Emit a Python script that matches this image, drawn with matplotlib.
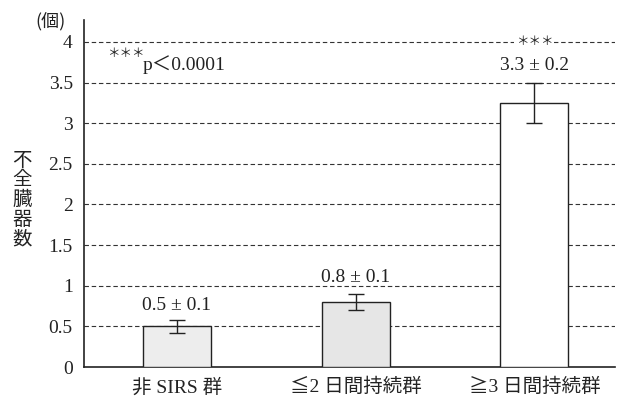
import matplotlib.pyplot as plt

# data
groups = ["非 SIRS 群", "≦2 日間持続群", "≧3 日間持続群"]
means = [0.5, 0.8, 3.25]
errors = [0.08, 0.1, 0.25]
value_labels = ["0.5 ± 0.1", "0.8 ± 0.1", "3.3 ± 0.2"]
bar_colors = ["#ededed", "#e6e6e6", "white"]
yticks = [0, 0.5, 1, 1.5, 2, 2.5, 3, 3.5, 4]
ytick_labels = ["0", "0.5", "1", "1.5", "2", "2.5", "3", "3.5", "4"]

fonts = ["Liberation Serif", "Noto Sans CJK JP", "DejaVu Sans"]
plt.rcParams['font.family'] = fonts

fig = plt.figure(figsize=(6.21, 4.03), dpi=100)
ax = fig.add_axes([0.135, 0.0893, 0.855, 0.861])

x = list(range(len(groups)))
ax.bar(x, means, width=0.38, color=bar_colors, edgecolor="#222222",
       linewidth=1.0, zorder=3)
ax.errorbar(x, means, yerr=errors, fmt="none", ecolor="#222222",
            elinewidth=1.0, capsize=6, capthick=1.0, zorder=4)

# value labels above bars
label_y = [0.65, 1.0, 3.6]
for xi, yi, txt in zip(x, label_y, value_labels):
    ax.text(xi, yi, txt, ha="center", va="bottom", fontsize=14, color="#222222")
ax.text(2, 4.0, "＊＊＊", ha="center", va="center", fontsize=9, color="#222222",
        family=["Noto Sans CJK JP"],
        bbox=dict(facecolor="white", edgecolor="none", pad=1), zorder=5)
ax.text(-0.39, 3.78, "＊＊＊", ha="left", va="bottom", fontsize=9,
        color="#222222", family=["Noto Sans CJK JP"])
ax.text(-0.19, 3.72, "p＜0.0001", ha="left", va="center", fontsize=14,
        color="#222222")

ax.set_xlim(-0.52, 2.45)
ax.set_ylim(0, 4.27)
ax.set_yticks(yticks)
ax.set_yticklabels(ytick_labels, fontsize=14)
ax.set_xticks(x)
ax.set_xticklabels(groups, fontsize=14)
ax.tick_params(axis="both", length=0, pad=8, colors="#222222")

for yv in yticks[1:]:
    ax.axhline(yv, color="#333333", linestyle=(0, (4, 2.5)), linewidth=0.8, zorder=1)

for side in ["top", "right"]:
    ax.spines[side].set_visible(False)
ax.spines["left"].set_linewidth(1.2)
ax.spines["bottom"].set_linewidth(1.2)
ax.spines["left"].set_color("#222222")
ax.spines["bottom"].set_color("#222222")

# y label stacked vertically, unit at top
fig.text(0.035, 0.505, "不\n全\n臓\n器\n数", ha="center", va="center",
         fontsize=14, linespacing=0.92, family="Noto Sans CJK JP", color="#222222")
fig.text(0.082, 0.945, "(個)", ha="center", va="center", fontsize=13,
         family=["Noto Sans CJK JP"], color="#222222")

fig.savefig("out.png", dpi=100)
